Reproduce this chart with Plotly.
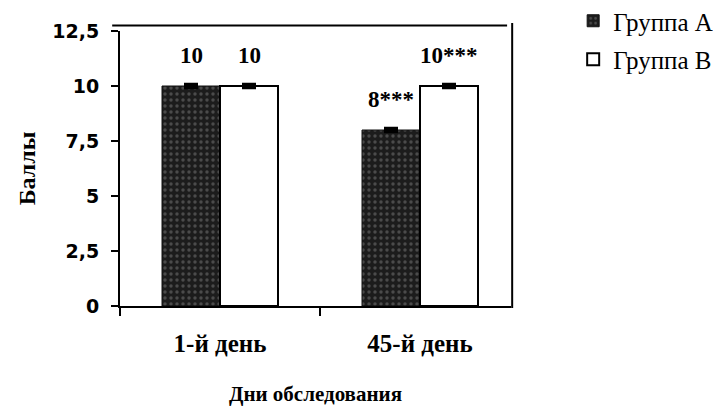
import plotly.graph_objects as go

categories = ["1-й день", "45-й день"]
group_a = [10, 8]
group_b = [10, 10]
err_a = [0.06, 0.06]
err_b = [0.06, 0.06]
labels_a = ["10", "8***"]
labels_b = ["10", "10***"]
y_tickvals = [0, 2.5, 5, 7.5, 10, 12.5]
y_ticktext = ["0", "2,5", "5", "7,5", "10", "12,5"]

serif = "Liberation Serif"
sans = "DejaVu Sans"

fig = go.Figure()
fig.add_trace(go.Bar(
    name="Группа А", x=categories, y=group_a, legendgroup="a",
    marker=dict(color="#262626", line=dict(color="#111111", width=1),
                pattern=dict(shape=".", fgcolor="#7a7a7a", bgcolor="#1c1c1c", size=6, solidity=0.25)),
    error_y=dict(type="data", array=err_a, color="black", thickness=4, width=7),
))
fig.add_trace(go.Bar(
    name="Группа В", x=categories, y=group_b, legendgroup="b",
    marker=dict(color="white", line=dict(color="black", width=2)),
    error_y=dict(type="data", array=err_b, color="black", thickness=4, width=7),
))

for i, c in enumerate(categories):
    fig.add_annotation(x=c, y=group_a[i], text=labels_a[i], showarrow=False,
                       xshift=-29, yshift=31, font=dict(family=serif, size=23, color="black", weight="bold"))
    fig.add_annotation(x=c, y=group_b[i], text=labels_b[i], showarrow=False,
                       xshift=29, yshift=31, font=dict(family=serif, size=23, color="black", weight="bold"))

# frame lines (top and right)
fig.add_shape(type="line", xref="paper", yref="paper", x0=-0.02, x1=0.99, y0=1.02, y1=1.02,
              line=dict(color="black", width=2))
fig.add_shape(type="line", xref="paper", yref="paper", x0=1.003, x1=1.003, y0=-0.007, y1=1.029,
              line=dict(color="black", width=2))

fig.update_layout(
    width=721, height=407,
    margin=dict(l=112, r=218, t=23, b=109, autoexpand=False),
    plot_bgcolor="white", paper_bgcolor="white",
    barmode="group", bargap=0.42, bargroupgap=0,
    showlegend=True,
    legend=dict(x=1.159, y=1.12, xanchor="left", yanchor="top",
                font=dict(family=serif, size=25, color="black"),
                tracegroupgap=3, itemwidth=30),
)
fig.update_yaxes(
    range=[0, 12.5], tickvals=y_tickvals, ticktext=y_ticktext,
    ticks="outside", ticklen=7, tickwidth=2, tickcolor="black",
    showline=True, linecolor="black", linewidth=2, showgrid=False, zeroline=False,
    tickfont=dict(family=sans, size=19, color="black", weight="bold"),
    ticklabelstandoff=8,
    title=dict(text="Баллы", font=dict(family=serif, size=24, color="black", weight="bold"), standoff=10),
)
fig.update_xaxes(
    type="category", range=[-0.5, 1.455],
    ticks="outside", tickson="boundaries", ticklen=8, tickwidth=2, tickcolor="black",
    showline=True, linecolor="black", linewidth=2, showgrid=False,
    tickfont=dict(family=serif, size=25, color="black", weight="bold"),
    ticklabelstandoff=14,
    title=dict(text="Дни обследования", font=dict(family=serif, size=21, color="black", weight="bold"), standoff=30),
)

fig.write_html("out.html")
